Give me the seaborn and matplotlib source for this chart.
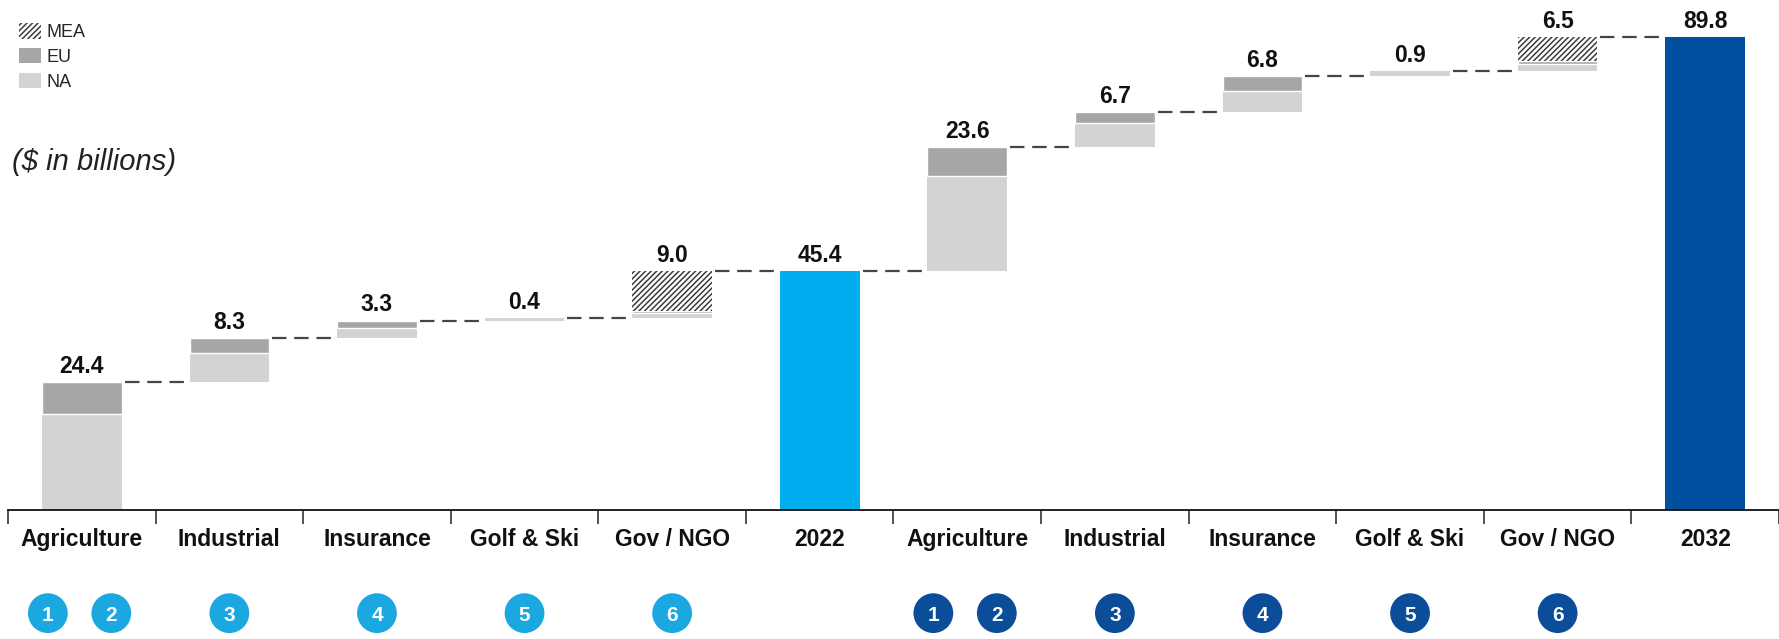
import numpy as np
import pandas as pd
import matplotlib
matplotlib.use("Agg")
import matplotlib.pyplot as plt
from matplotlib.patches import Patch
import seaborn as sns

sns.set_style("white")
plt.rcParams['font.family'] = ['Liberation Sans', 'DejaVu Sans']
plt.rcParams['hatch.linewidth'] = 1.1

# ---- data ($ in billions) ----
categories = ["Agriculture", "Industrial", "Insurance", "Golf & Ski", "Gov / NGO", "2022",
              "Agriculture", "Industrial", "Insurance", "Golf & Ski", "Gov / NGO", "2032"]
is_total = [False, False, False, False, False, True,
            False, False, False, False, False, True]
na = [18.3, 5.4, 1.8, 0.4, 1.0, 0.0, 18.0, 4.5, 4.0, 0.9, 1.4, 0.0]
eu = [6.1, 2.9, 1.5, 0.0, 0.5, 0.0, 5.6, 2.2, 2.8, 0.0, 0.5, 0.0]
mea = [0.0, 0.0, 0.0, 0.0, 7.5, 0.0, 0.0, 0.0, 0.0, 0.0, 4.6, 0.0]
totals = [0.0, 0.0, 0.0, 0.0, 0.0, 45.4, 0.0, 0.0, 0.0, 0.0, 0.0, 89.8]
value_labels = ["24.4", "8.3", "3.3", "0.4", "9.0", "45.4",
                "23.6", "6.7", "6.8", "0.9", "6.5", "89.8"]

circle_cats = [0, 0, 1, 2, 3, 4, 6, 6, 7, 8, 9, 10]
circle_nums = ["1", "2", "3", "4", "5", "6", "1", "2", "3", "4", "5", "6"]
circle_group = ["2022"] * 6 + ["2032"] * 6

# ---- colours ----
C_NA = '#d3d3d3'
C_EU = '#a6a6a6'
C_HATCH = '#3c3c3c'
C_2022 = '#00aeef'
C_2032 = '#0050a0'
CIRCLE = {"2022": '#1ba8e1', "2032": '#0b4d98'}
HATCH = '//////'

W, H = 1779, 639
fig = plt.figure(figsize=(W / 100, H / 100), dpi=100)
ax = fig.add_axes([8 / W, (H - 510) / H, 1 - 8 / W, 500 / H])
ax.set_xlim(-0.5, 11.5)
ax.set_ylim(0, 95)

bw = 0.54
level = 0.0
tops = []
for i, cat in enumerate(categories):
    if is_total[i]:
        color = C_2022 if cat == "2022" else C_2032
        ax.bar(i, totals[i], width=bw, color=color, linewidth=0)
        level = totals[i]
        tops.append(level)
        continue
    bottom = level
    if na[i] > 0:
        ax.bar(i, na[i], bottom=bottom, width=bw, color=C_NA, linewidth=0)
        bottom += na[i]
    if eu[i] > 0:
        ax.bar(i, eu[i], bottom=bottom, width=bw, color=C_EU,
               edgecolor='white', linewidth=1.0)
        bottom += eu[i]
    if mea[i] > 0:
        ax.bar(i, mea[i], bottom=bottom, width=bw, color='white',
               edgecolor=C_HATCH, hatch=HATCH, linewidth=0)
        bottom += mea[i]
    level = bottom
    tops.append(level)

# dashed connectors between bars
for i in range(len(categories) - 1):
    ax.plot([i + bw / 2 + 0.02, i + 1 - bw / 2 - 0.02], [tops[i], tops[i]],
            color='#454545', lw=1.6, linestyle=(0, (6.5, 3.5)), dash_capstyle='butt')

# value labels
for i, lab in enumerate(value_labels):
    ax.annotate(lab, (i, tops[i]), xytext=(0, 6.5), textcoords='offset points',
                ha='center', va='baseline', fontsize=16.5, fontweight='bold', color='#111111')

# category labels
for i, cat in enumerate(categories):
    ax.text(i, -6.9, cat, ha='center', va='baseline', fontsize=16.5,
            fontweight='bold', color='#111111', clip_on=False)

# numbered circles
circ = pd.DataFrame({"cat": circle_cats, "num": circle_nums, "group": circle_group})
dup = circ.groupby(["group", "cat"])["num"].transform("count")
rank = circ.groupby(["group", "cat"]).cumcount()
circ["x"] = circ["cat"] + np.where(dup > 1, np.where(rank == 0, -0.23, 0.2), 0.0)
circ["y"] = -19.6
sns.scatterplot(data=circ, x="x", y="y", hue="group", palette=CIRCLE, s=820,
                linewidth=0, legend=False, ax=ax, clip_on=False, zorder=5)
for _, r in circ.iterrows():
    ax.text(r["x"], r["y"], r["num"], ha='center', va='center_baseline', fontsize=15,
            fontweight='bold', color='white', zorder=6, clip_on=False)

# axis styling
for s in ['top', 'right', 'left']:
    ax.spines[s].set_visible(False)
ax.spines['bottom'].set_color('#111111')
ax.spines['bottom'].set_linewidth(1.3)
ax.set_yticks([])
ax.set_xticks(np.arange(-0.5, 12, 1))
ax.set_xticklabels([])
ax.tick_params(axis='x', direction='out', length=10, width=1.1, color='#222222', bottom=True)
ax.set_xlabel('')
ax.set_ylabel('')

# legend
handles = [Patch(facecolor='white', edgecolor=C_HATCH, hatch=HATCH, linewidth=0, label='MEA'),
           Patch(facecolor=C_EU, linewidth=0, label='EU'),
           Patch(facecolor=C_NA, linewidth=0, label='NA')]
fig.legend(handles=handles, loc='upper left', bbox_to_anchor=(19 / W, 1 - 23 / H),
           bbox_transform=fig.transFigure, frameon=False, fontsize=13,
           handlelength=1.2, handleheight=0.95, handletextpad=0.35,
           labelspacing=0.38, borderpad=0, borderaxespad=0)

fig.text(12 / W, 1 - 162 / H, '($ in billions)', fontsize=21, fontstyle='italic',
         va='center', ha='left', color='#222222')

fig.savefig('out.png', dpi=100)
